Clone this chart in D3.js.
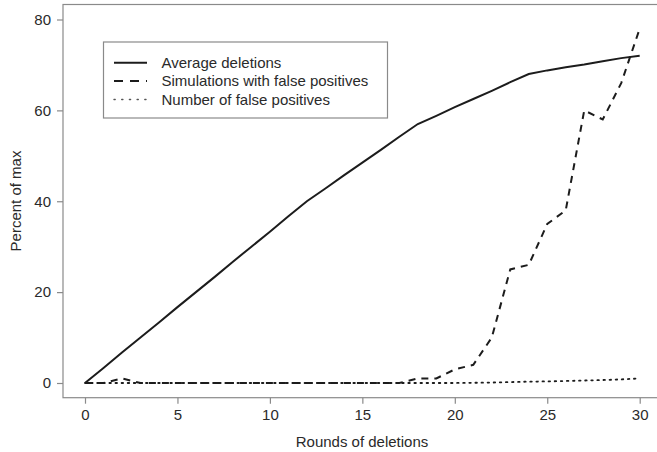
<!DOCTYPE html>
<html>
<head>
<meta charset="utf-8">
<title>Rounds of deletions</title>
<script src="https://d3js.org/d3.v7.min.js"></script>
<style>
  body { margin: 0; background: #fff; }
  text { font-family: "Liberation Sans", Arial, sans-serif; }
</style>
</head>
<body>
<svg width="657" height="452"></svg>
<script>
// values, one per round
var rounds = [0,1,2,3,4,5,6,7,8,9,10,11,12,13,14,15,16,17,18,19,20,21,22,23,24,25,26,27,28,29,30];
var avgDeletions = [0,3.3,6.7,10,13.3,16.7,20,23.3,26.7,30,33.3,36.7,40,
  42.8,45.7,48.5,51.3,54.2,57,58.8,60.7,62.5,64.3,66.2,68,68.8,69.5,70.1,70.8,71.5,72];
var simsFalsePos = [0,0,1,0,0,0,0,0,0,0,0,0,0,0,0,0,0,0,1,1,3,4,10,25,26,35,38,60,58,66,78];
var numFalsePos = [0,0,0,0,0,0,0,0,0,0,0,0,0,0,0,0,0,0,0,0,0,0.05,0.1,0.2,0.3,0.35,0.45,0.55,0.65,0.8,1];

var xTicks = [0,5,10,15,20,25,30];
var yTicks = [0,20,40,60,80];
var legendLabels = ["Average deletions", "Simulations with false positives", "Number of false positives"];
var dashes = [null, "7,6", "1.5,4.6"];
var legendDashes = [null, "9,7", "1.2,6.5"];

var svg = d3.select("svg");
var axisCol = "#8a8a8a", inkCol = "#1c1c1c", textCol = "#2a2a2a";

var x = d3.scaleLinear().domain([0, 30]).range([85, 639.7]);
var y = d3.scaleLinear().domain([0, 80]).range([383, 19.5]);

// plot frame (right side is cut off in the original)
svg.append("rect")
  .attr("x", 63).attr("y", 4.5)
  .attr("width", 620).attr("height", 393.2)
  .attr("fill", "none").attr("stroke", axisCol).attr("stroke-width", 1.2);

var xAxis = svg.append("g")
  .attr("transform", "translate(0,397.7)")
  .call(d3.axisBottom(x).tickValues(xTicks).tickSize(6).tickPadding(6));
var yAxis = svg.append("g")
  .attr("transform", "translate(63,0)")
  .call(d3.axisLeft(y).tickValues(yTicks).tickSize(6).tickPadding(6));

[xAxis, yAxis].forEach(function(g) {
  g.select(".domain").remove();
  g.selectAll(".tick line").attr("stroke", axisCol).attr("stroke-width", 1.2);
  g.selectAll(".tick text")
    .attr("fill", textCol)
    .style("font-size", "15px")
    .style("font-family", "'Liberation Sans', Arial, sans-serif");
});

svg.append("text")
  .attr("x", 362).attr("y", 446.5)
  .attr("text-anchor", "middle")
  .attr("fill", textCol)
  .style("font-size", "15px")
  .text("Rounds of deletions");

svg.append("text")
  .attr("transform", "translate(21,201) rotate(-90)")
  .attr("text-anchor", "middle")
  .attr("fill", textCol)
  .style("font-size", "15px")
  .text("Percent of max");

var series = [avgDeletions, simsFalsePos, numFalsePos];
var line = d3.line()
  .x(function(d, i) { return x(rounds[i]); })
  .y(function(d) { return y(d); });

svg.selectAll(".series")
  .data(series)
  .enter().append("path")
    .attr("class", "series")
    .attr("d", line)
    .attr("fill", "none")
    .attr("stroke", inkCol)
    .attr("stroke-width", function(d, i) { return i == 2 ? 1.8 : 2; })
    .attr("stroke-dasharray", function(d, i) { return dashes[i]; })
    .attr("stroke-linecap", function(d, i) { return i == 2 ? "round" : "butt"; });

// legend
var legend = svg.append("g");
legend.append("rect")
  .attr("x", 103.5).attr("y", 42)
  .attr("width", 284).attr("height", 76)
  .attr("fill", "#fff").attr("stroke", axisCol).attr("stroke-width", 1.2);

var rows = legend.selectAll(".row")
  .data(legendLabels)
  .enter().append("g")
    .attr("class", "row")
    .attr("transform", function(d, i) { return "translate(0," + (62.7 + i * 18.4) + ")"; });

rows.append("line")
  .attr("x1", 114).attr("x2", 147)
  .attr("stroke", function(d, i) { return i == 2 ? "#555" : inkCol; })
  .attr("stroke-width", function(d, i) { return i == 2 ? 1.4 : 2; })
  .attr("stroke-dasharray", function(d, i) { return legendDashes[i]; })
  .attr("stroke-linecap", function(d, i) { return i == 2 ? "round" : "butt"; });

rows.append("text")
  .attr("x", 161.5).attr("y", 5.3)
  .attr("fill", textCol)
  .style("font-size", "15px")
  .text(function(d) { return d; });
</script>
</body>
</html>
